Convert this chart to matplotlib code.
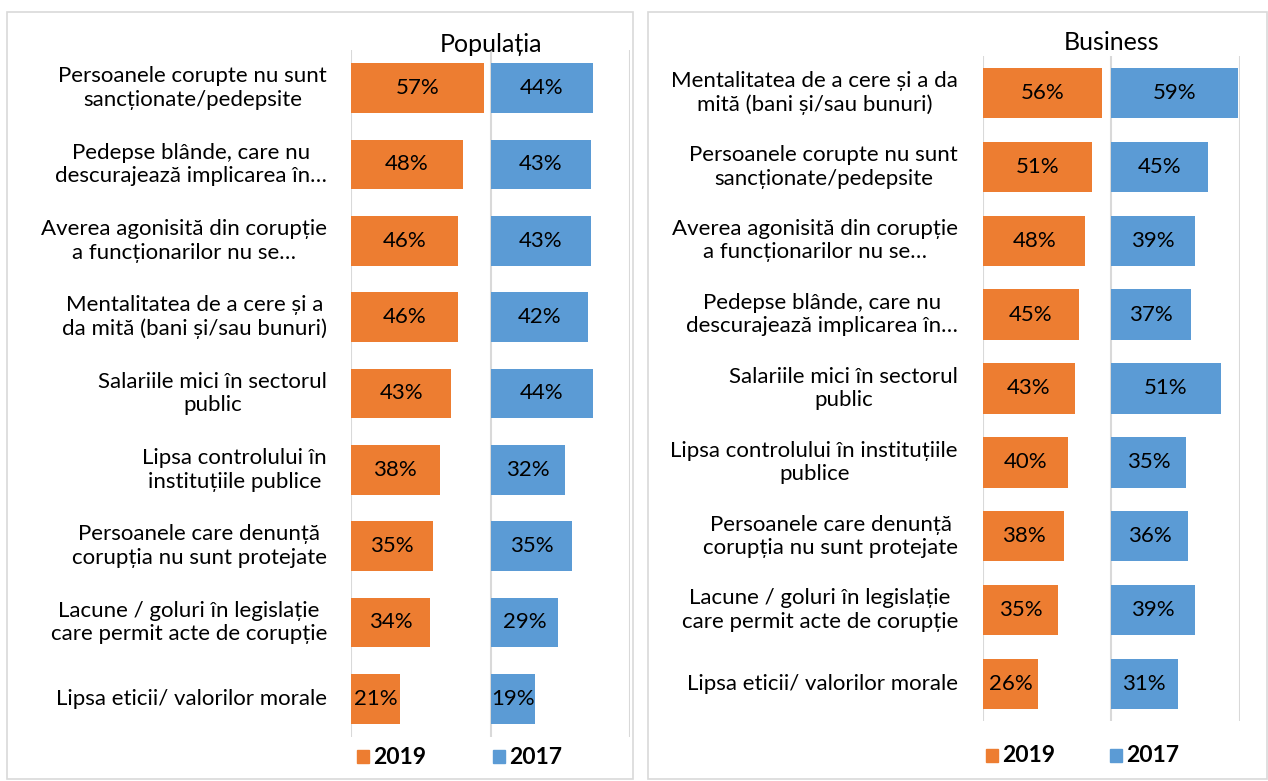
import matplotlib
matplotlib.use("Agg")
import matplotlib.pyplot as plt
from matplotlib.patches import Rectangle

plt.rcParams['font.family'] = ['Lato', 'DejaVu Sans']

#=== data ===#
pop_labels = [
    "Persoanele corupte nu sunt\nsancționate/pedepsite",
    "Pedepse blânde, care nu\ndescurajează implicarea în…",
    "Averea agonisită din corupție\na funcționarilor nu se…",
    "Mentalitatea de a cere și a\nda mită (bani și/sau bunuri)",
    "Salariile mici în sectorul\npublic",
    "Lipsa controlului în\ninstituțiile publice",
    "Persoanele care denunță\ncorupția nu sunt protejate",
    "Lacune / goluri în legislație\ncare permit acte de corupție",
    "Lipsa eticii/ valorilor morale",
]
pop_2019 = [0.57, 0.48, 0.46, 0.46, 0.43, 0.38, 0.35, 0.34, 0.21]
pop_2017 = [0.44, 0.43, 0.43, 0.42, 0.44, 0.32, 0.35, 0.29, 0.19]

bus_labels = [
    "Mentalitatea de a cere și a da\nmită (bani și/sau bunuri)",
    "Persoanele corupte nu sunt\nsancționate/pedepsite",
    "Averea agonisită din corupție\na funcționarilor nu se…",
    "Pedepse blânde, care nu\ndescurajează implicarea în…",
    "Salariile mici în sectorul\npublic",
    "Lipsa controlului în instituțiile\npublice",
    "Persoanele care denunță\ncorupția nu sunt protejate",
    "Lacune / goluri în legislație\ncare permit acte de corupție",
    "Lipsa eticii/ valorilor morale",
]
bus_2019 = [0.56, 0.51, 0.48, 0.45, 0.43, 0.40, 0.38, 0.35, 0.26]
bus_2017 = [0.59, 0.45, 0.39, 0.37, 0.51, 0.35, 0.36, 0.39, 0.31]

years = ["2019", "2017"]

#=== style ===#
W, H = 1268, 781
orange = "#ED7D31"
blue = "#5B9BD5"
grid_c = "#D9D9D9"
fs = 16

fig = plt.figure(figsize=(W / 100, H / 100), dpi=100)


def px_axes(x0, y0, x1, y1):
    return fig.add_axes([x0 / W, 1 - y1 / H, (x1 - x0) / W, (y1 - y0) / H])


def panel(box, cols, top, bottom, label_x, title, title_y, labels, v19, v17, bar_h, leg_y, leg_x):
    # outer frame
    bx0, by0, bx1, by1 = box
    fig.patches.append(Rectangle((bx0 / W, 1 - by1 / H), (bx1 - bx0) / W, (by1 - by0) / H,
                                 transform=fig.transFigure, fill=False,
                                 edgecolor=grid_c, linewidth=1.2))
    n = len(labels)
    for k, (vals, color) in enumerate([(v19, orange), (v17, blue)]):
        ax = px_axes(cols[k], top, cols[k + 1], bottom)
        ax.barh(range(n), vals, height=bar_h, color=color)
        for i, v in enumerate(vals):
            ax.text(v / 2, i, "{:.0f}%".format(v * 100), ha="center", va="center", fontsize=fs)
        ax.set_xlim(0, 0.6)
        ax.set_ylim(n - 0.5, -0.5)
        ax.axvline(0, color=grid_c, linewidth=1.5, zorder=0)
        ax.axvline(0.6, color=grid_c, linewidth=1.5, zorder=0)
        ax.axis("off")
        ax.patch.set_alpha(0)
        if k == 0:
            for i, lab in enumerate(labels):
                ax.annotate(lab, xy=(0, i), xycoords="data",
                            xytext=(label_x / W, i), textcoords=("figure fraction", "data"),
                            ha="right", va="center", multialignment="center",
                            fontsize=fs, linespacing=1.22)
    fig.text(((cols[0] + cols[2]) / 2) / W, 1 - title_y / H, title,
             ha="center", va="center", fontsize=18)
    # legend
    for j, (yr, color) in enumerate(zip(years, [orange, blue])):
        sx = leg_x[j]
        fig.patches.append(Rectangle((sx / W, 1 - (leg_y + 6) / H), 12 / W, 13 / H,
                                     transform=fig.transFigure, color=color))
        fig.text((sx + 16) / W, 1 - leg_y / H, yr, ha="left", va="center",
                 fontsize=16.5, fontweight="bold")


panel((7, 12, 633, 779), [351, 491, 630], 50, 737, 327, "Populația", 44,
      pop_labels, pop_2019, pop_2017, 0.65, 757, [357, 493])
panel((648, 12, 1267, 779), [983, 1111, 1240], 56, 721, 958, "Business", 42,
      bus_labels, bus_2019, bus_2017, 0.68, 756, [986, 1110])

fig.savefig("out.png", dpi=100)
